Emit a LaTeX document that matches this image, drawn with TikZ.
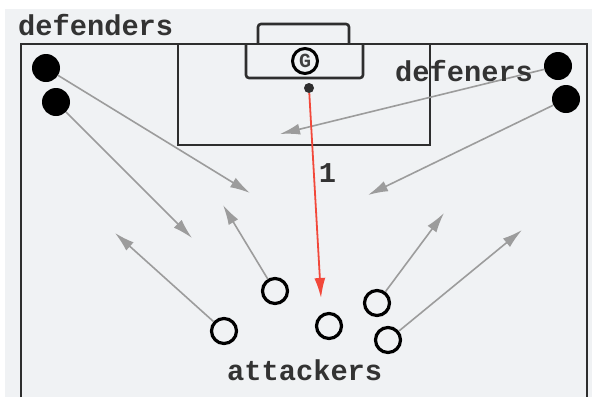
\documentclass[tikz,border=0pt]{standalone}
\usepackage{fontspec}
\setmonofont{Liberation Mono}
\usetikzlibrary{arrows.meta}

\definecolor{pitchbg}{HTML}{F0F2F4}
\definecolor{pitchline}{HTML}{2E2E2E}
\definecolor{rungray}{HTML}{9C9C9C}
\definecolor{passred}{HTML}{F2483A}

\begin{document}
\begin{tikzpicture}[x=1pt,y=1pt,
    pitch/.style={draw=pitchline,line width=2.6pt},
    box/.style={draw=pitchline,line width=2.6pt,rounded corners=3pt},
    defender/.style={circle,fill=black,minimum size=28pt,inner sep=0pt},
    attacker/.style={circle,draw=black,line width=3.2pt,minimum size=25pt,inner sep=0pt},
    label/.style={font=\fontsize{28.7}{30}\selectfont\ttfamily\bfseries,inner sep=0pt,text=black!80},
    run/.style={-{Latex[length=20pt,width=11pt]},draw=rungray,fill=rungray,line width=1.6pt}]

    % background and margins (y counts down from the top edge)
    \useasboundingbox (0,0) rectangle (594,-397);
    \fill[white] (0,0) rectangle (594,-397);
    \fill[pitchbg] (5,-9) rectangle (592,-397);

    % pitch
    \draw[pitch] (21,-397) -- (21,-44) -- (587,-44) -- (587,-397);
    \draw[pitch] (178,-44) -- (178,-145) -- (430,-145) -- (430,-44);
    \draw[box] (246,-44) -- (246,-78) -- (363,-78) -- (363,-44);
    \draw[box] (258,-44) -- (258,-24) -- (349,-24) -- (349,-44);

    % goalkeeper and ball
    \node[circle,draw=black,line width=3pt,minimum size=25pt,inner sep=0pt,
          font=\fontsize{20}{20}\selectfont\ttfamily\bfseries,text=black!75] (gk) at (305,-61) {G};
    \node[circle,fill=pitchline,minimum size=10pt,inner sep=0pt] (ball) at (309,-88) {};

    % players
    \node[defender] (d1) at (46,-68) {};
    \node[defender] (d2) at (56,-102) {};
    \node[defender] (d3) at (558,-66) {};
    \node[defender] (d4) at (566,-99) {};

    \node[attacker] (a1) at (224,-331) {};
    \node[attacker] (a2) at (275,-291) {};
    \node[attacker] (a3) at (329,-326) {};
    \node[attacker] (a4) at (377,-303) {};
    \node[attacker] (a5) at (388,-340) {};

    % arrow targets
    \coordinate (t1) at (250,-193);
    \coordinate (t2) at (192,-238);
    \coordinate (t3) at (280,-134);
    \coordinate (t4) at (368,-195);
    \coordinate (u1) at (115,-233);
    \coordinate (u2) at (223,-205);
    \coordinate (u4) at (444,-213);
    \coordinate (u5) at (522,-230);
    \coordinate (shot) at (321,-298);

    \path[run]
        (d1) edge (t1)
        (d2) edge (t2)
        (d3) edge (t3)
        (d4) edge (t4)
        (a1) edge (u1)
        (a2) edge (u2)
        (a4) edge (u4)
        (a5) edge (u5);

    \draw[-{Latex[length=20pt,width=11pt]},draw=passred,fill=passred,line width=1.8pt] (ball) -- (shot)
        node[label,pos=0.39,right=4pt] (n1) {1};

    % texts
    \node[label,anchor=base west] (deftext) at (18,-35) {defenders};
    \node[label,anchor=base west] (deftext2) at (395,-81) {defeners};
    \node[label,anchor=base west] (atttext) at (227,-380) {attackers};
\end{tikzpicture}
\end{document}
